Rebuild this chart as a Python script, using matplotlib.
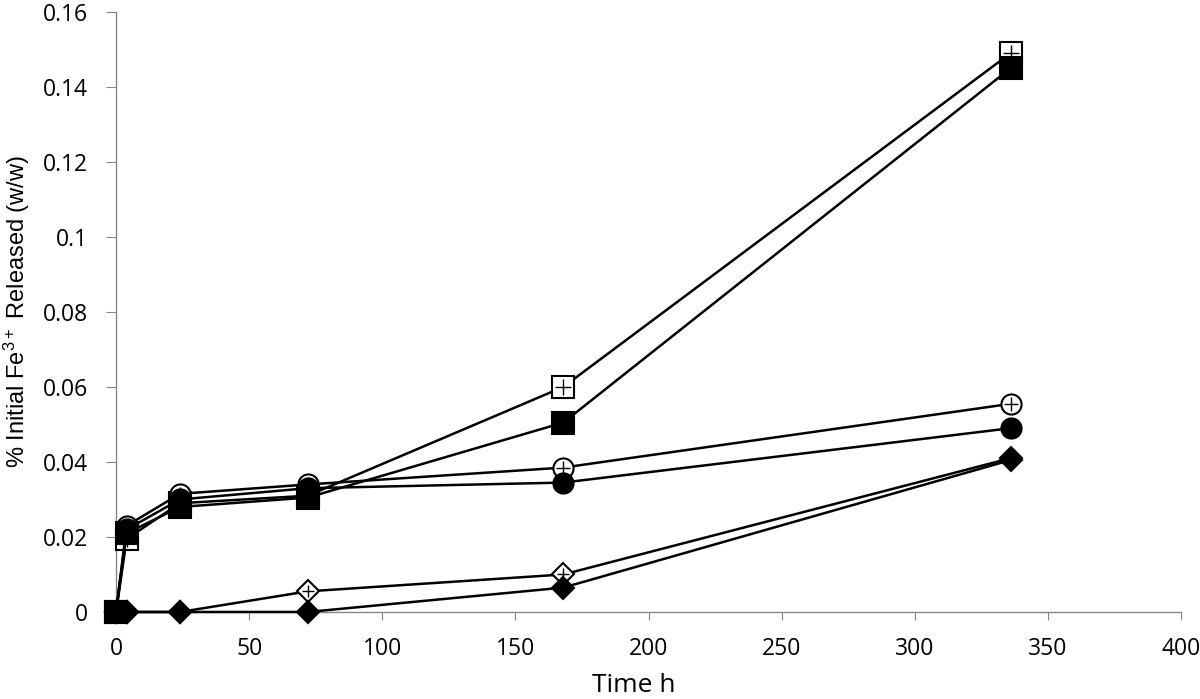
import numpy as np
import matplotlib.pyplot as plt

# time points (h)
time_h = [0, 4, 24, 72, 168, 336]

# % initial Fe3+ released (w/w)
sq_open = [0, 0.0195, 0.029, 0.031, 0.060, 0.149]
sq_filled = [0, 0.021, 0.028, 0.0305, 0.0505, 0.145]
circ_open = [0, 0.023, 0.0315, 0.034, 0.0385, 0.0555]
circ_filled = [0, 0.022, 0.030, 0.033, 0.0345, 0.049]
dia_open = [0, 0, 0, 0.0055, 0.010, 0.041]
dia_filled = [0, 0, 0, 0, 0.0065, 0.0405]

xticks = [0, 50, 100, 150, 200, 250, 300, 350, 400]
yticks = [0, 0.02, 0.04, 0.06, 0.08, 0.1, 0.12, 0.14, 0.16]
ytick_labels = ['0', '0.02', '0.04', '0.06', '0.08', '0.1', '0.12', '0.14', '0.16']

plt.rcParams['font.family'] = ['Open Sans', 'DejaVu Sans']
plt.rcParams['mathtext.default'] = 'regular'

fig = plt.figure(figsize=(12, 6.99), dpi=100)
ax = fig.add_axes([0.0967, 0.1245, 0.8875, 0.8585])

lw = 1.8
series = [
    (sq_open, 's', 16, True),
    (sq_filled, 's', 16, False),
    (circ_open, 'o', 14.5, True),
    (circ_filled, 'o', 14.5, False),
    (dia_open, 'D', 11.5, True),
    (dia_filled, 'D', 11.5, False),
]
for vals, mk, ms, hollow in series:
    ax.plot(time_h, vals, color='black', lw=lw, marker=mk, ms=ms,
            mfc='white' if hollow else 'black', mec='black', mew=1.5,
            zorder=3, clip_on=False)
    if hollow:
        ax.plot(time_h, vals, ls='none', marker='+', ms=ms * 0.7,
                mec='black', mew=1.0, zorder=4, clip_on=False)

ax.set_xlim(0, 400)
ax.set_ylim(0, 0.16)
ax.set_xticks(xticks)
ax.set_yticks(yticks)
ax.set_yticklabels(ytick_labels)

for s in ['top', 'right']:
    ax.spines[s].set_visible(False)
for s in ['left', 'bottom']:
    ax.spines[s].set_color('#868686')
    ax.spines[s].set_linewidth(1.0)
ax.tick_params(axis='x', direction='out', length=6, color='#868686',
               labelsize=16.5, pad=12)
ax.tick_params(axis='y', direction='out', length=7, color='#868686',
               labelsize=16.5, pad=13)

ax.set_xlabel('Time h', fontsize=19)
ax.xaxis.set_label_coords(0.486, -0.102)
ax.set_ylabel('% Initial Fe$^{3+}$ Released (w/w)', fontsize=17,
              family=['Liberation Sans', 'DejaVu Sans'])
ax.yaxis.set_label_coords(-0.079, 0.5)

fig.savefig('out.png', dpi=100)
